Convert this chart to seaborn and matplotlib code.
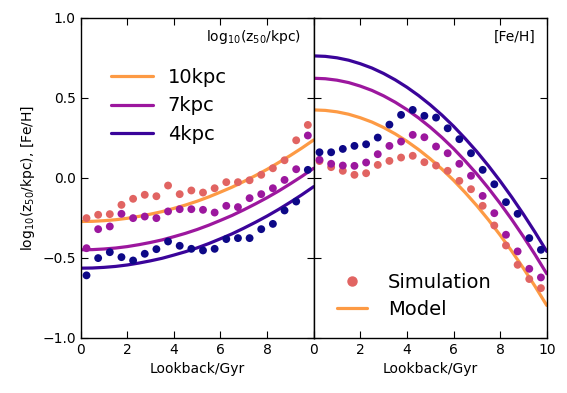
import matplotlib
matplotlib.use("Agg")
import matplotlib.pyplot as plt
import numpy as np
import pandas as pd
import seaborn as sns
from matplotlib.lines import Line2D

# ---------------- data ----------------
radii = ["10kpc", "7kpc", "4kpc"]

age_sim = [0.25, 0.75, 1.25, 1.75, 2.25, 2.75, 3.25, 3.75, 4.25, 4.75,
           5.25, 5.75, 6.25, 6.75, 7.25, 7.75, 8.25, 8.75, 9.25, 9.75]
age_model = [0.0, 0.5, 1.0, 1.5, 2.0, 2.5, 3.0, 3.5, 4.0, 4.5, 5.0,
             5.5, 6.0, 6.5, 7.0, 7.5, 8.0, 8.5, 9.0, 9.5, 10.0]

# log10(z50/kpc) simulation
z50_sim_10 = [-0.252, -0.231, -0.227, -0.169, -0.131, -0.106, -0.115, -0.048, -0.102, -0.079,
              -0.092, -0.065, -0.027, -0.027, -0.015, 0.019, 0.060, 0.110, 0.235, 0.331]
z50_sim_7 = [-0.440, -0.321, -0.304, -0.225, -0.252, -0.242, -0.252, -0.210, -0.196, -0.196,
             -0.200, -0.217, -0.175, -0.183, -0.127, -0.102, -0.065, -0.013, 0.054, 0.265]
z50_sim_4 = [-0.610, -0.502, -0.465, -0.496, -0.517, -0.475, -0.446, -0.398, -0.425, -0.444,
             -0.454, -0.444, -0.383, -0.377, -0.377, -0.321, -0.288, -0.204, -0.148, 0.050]

# log10(z50/kpc) model
z50_model_10 = [-0.273, -0.272, -0.268, -0.262, -0.253, -0.241, -0.227, -0.211, -0.191, -0.170, -0.146,
                -0.119, -0.089, -0.058, -0.023, 0.014, 0.053, 0.096, 0.140, 0.187, 0.237]
z50_model_7 = [-0.450, -0.449, -0.445, -0.439, -0.430, -0.418, -0.404, -0.388, -0.368, -0.347, -0.323,
               -0.296, -0.266, -0.235, -0.200, -0.163, -0.124, -0.082, -0.037, 0.010, 0.060]
z50_model_4 = [-0.565, -0.564, -0.560, -0.554, -0.545, -0.533, -0.519, -0.503, -0.483, -0.462, -0.438,
               -0.411, -0.381, -0.350, -0.315, -0.278, -0.239, -0.197, -0.152, -0.105, -0.055]

# [Fe/H] simulation
feh_sim_10 = [0.105, 0.067, 0.044, 0.019, 0.029, 0.081, 0.106, 0.127, 0.138, 0.098,
              0.077, 0.044, -0.019, -0.071, -0.175, -0.298, -0.423, -0.544, -0.633, -0.690]
feh_sim_7 = [0.113, 0.088, 0.077, 0.075, 0.096, 0.148, 0.200, 0.227, 0.269, 0.254,
             0.196, 0.154, 0.088, 0.013, -0.113, -0.221, -0.356, -0.460, -0.569, -0.623]
feh_sim_4 = [0.160, 0.160, 0.181, 0.200, 0.210, 0.252, 0.333, 0.394, 0.425, 0.388,
             0.377, 0.310, 0.242, 0.154, 0.050, -0.040, -0.152, -0.225, -0.377, -0.450]

# [Fe/H] model
feh_model_10 = [0.425, 0.422, 0.413, 0.398, 0.376, 0.349, 0.315, 0.275, 0.229, 0.177, 0.119,
                0.055, -0.015, -0.092, -0.174, -0.263, -0.358, -0.459, -0.566, -0.679, -0.798]
feh_model_7 = [0.623, 0.620, 0.611, 0.596, 0.574, 0.547, 0.513, 0.473, 0.427, 0.375, 0.317,
               0.253, 0.183, 0.106, 0.024, -0.065, -0.160, -0.261, -0.368, -0.481, -0.600]
feh_model_4 = [0.763, 0.760, 0.751, 0.736, 0.714, 0.687, 0.653, 0.613, 0.567, 0.515, 0.457,
               0.393, 0.323, 0.246, 0.164, 0.075, -0.020, -0.121, -0.228, -0.341, -0.460]

dot_colors = {"10kpc": "#E16462", "7kpc": "#9C179E", "4kpc": "#0D0887"}
line_colors = {"10kpc": "#FD9A44", "7kpc": "#9C179E", "4kpc": "#3A049A"}

# ---------------- tables ----------------
def long_df(x, series):
    rows = []
    for r, vals in series.items():
        for xi, v in zip(x, vals):
            rows.append({"age": xi, "val": v, "radius": r})
    return pd.DataFrame(rows)

z_sim = long_df(age_sim, {"10kpc": z50_sim_10, "7kpc": z50_sim_7, "4kpc": z50_sim_4})
z_mod = long_df(age_model, {"10kpc": z50_model_10, "7kpc": z50_model_7, "4kpc": z50_model_4})
f_sim = long_df(age_sim, {"10kpc": feh_sim_10, "7kpc": feh_sim_7, "4kpc": feh_sim_4})
f_mod = long_df(age_model, {"10kpc": feh_model_10, "7kpc": feh_model_7, "4kpc": feh_model_4})

# ---------------- style ----------------
sns.set_style("ticks", {"xtick.direction": "in", "ytick.direction": "in",
                        "axes.edgecolor": "black", "text.color": "black",
                        "axes.labelcolor": "black", "xtick.color": "black",
                        "ytick.color": "black"})
plt.rcParams["font.family"] = ["DejaVu Sans"]
plt.rcParams["text.color"] = "black"
plt.rcParams["axes.labelcolor"] = "black"

fig = plt.figure(figsize=(5.67, 3.93), dpi=100)
axL = fig.add_axes([0.1423, 0.1407, 0.4109, 0.8135])
axR = fig.add_axes([0.5532, 0.1407, 0.4111, 0.8135])

for ax, sim, mod in [(axL, z_sim, z_mod), (axR, f_sim, f_mod)]:
    sns.lineplot(data=mod, x="age", y="val", hue="radius", palette=line_colors,
                 hue_order=radii, linewidth=2.3, legend=False, ax=ax, zorder=2)
    sns.scatterplot(data=sim, x="age", y="val", hue="radius", palette=dot_colors,
                    hue_order=radii, s=32, linewidth=0, legend=False, ax=ax, zorder=3)
    ax.set_xlim(0, 10)
    ax.set_ylim(-1.0, 1.0)
    ax.set_yticks([-1.0, -0.5, 0.0, 0.5, 1.0])
    ax.tick_params(axis="both", which="major", direction="in", top=True, right=True,
                   length=5, width=0.8, labelsize=10, color="black", labelcolor="black")
    for sp in ax.spines.values():
        sp.set_color("black")
        sp.set_linewidth(1.0)
    ax.set_xlabel("Lookback/Gyr", fontsize=10, color="black")

axL.set_xticks([0, 2, 4, 6, 8, 10])
axL.set_xticklabels(["0", "2", "4", "6", "8", ""])
axL.set_yticklabels(["\u22121.0", "\u22120.5", "0.0", "0.5", "1.0"])
axL.set_ylabel(r"log$_{10}$(z$_{50}$/kpc), [Fe/H]", fontsize=10, color="black")

axR.set_xticks([0, 2, 4, 6, 8, 10])
axR.set_yticklabels([])
axR.set_ylabel("")

axL.text(0.945, 0.94, r"log$_{10}$(z$_{50}$/kpc)", transform=axL.transAxes,
         ha="right", va="center", fontsize=10, color="black")
axR.text(0.95, 0.94, "[Fe/H]", transform=axR.transAxes,
         ha="right", va="center", fontsize=10, color="black")

handlesL = [Line2D([], [], color=line_colors[r], lw=2.3) for r in radii]
axL.legend(handlesL, radii, loc="upper left", bbox_to_anchor=(0.095, 0.868),
           frameon=False, fontsize=14, handlelength=2.16, labelspacing=0.48,
           handletextpad=0.77, borderaxespad=0.0, labelcolor="black")

handlesR = [Line2D([], [], color=dot_colors["10kpc"], marker="o", ls="none", markersize=6.5),
            Line2D([], [], color=line_colors["10kpc"], lw=2.3)]
axR.legend(handlesR, ["Simulation", "Model"], loc="lower left",
           bbox_to_anchor=(0.065, 0.034), frameon=False, fontsize=14,
           handlelength=1.55, labelspacing=0.42, handletextpad=1.1, numpoints=1,
           borderaxespad=0.0, labelcolor="black")

fig.savefig("out.png", dpi=100)
